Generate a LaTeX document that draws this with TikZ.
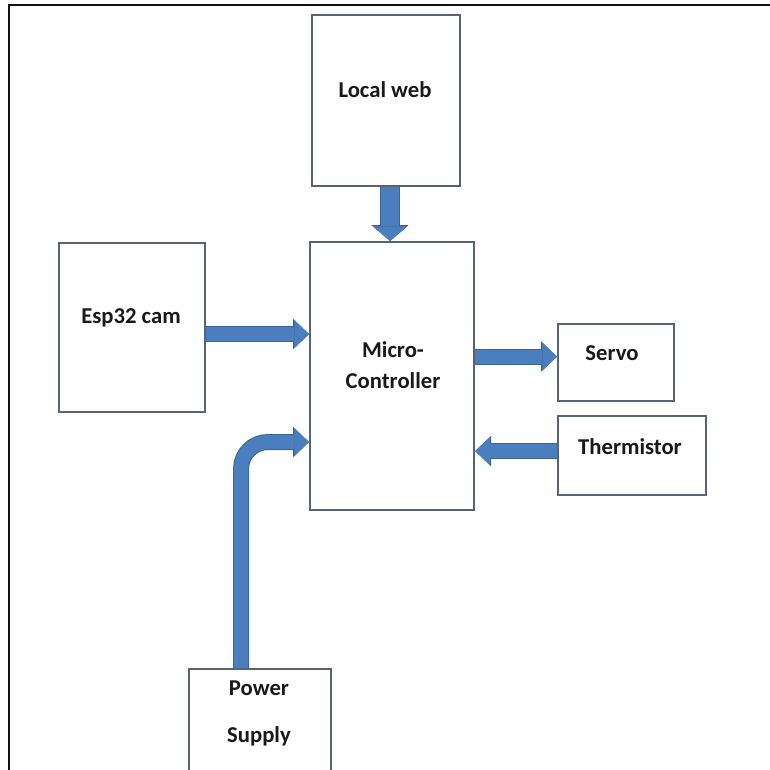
\documentclass[tikz,border=0pt]{standalone}
\usepackage{fontspec}
\setmainfont{Carlito}
\usetikzlibrary{arrows.meta,calc}
\definecolor{arrowblue}{HTML}{4A7EBF}
\definecolor{arrowedge}{HTML}{3A6496}
\definecolor{boxedge}{HTML}{56647A}
\definecolor{frameblack}{HTML}{111111}
\begin{document}
\begin{tikzpicture}[x=0.75pt,y=-0.75pt,
  box/.style={draw=boxedge,line width=1.6pt,fill=white,inner sep=0pt,anchor=north west},
  lbl/.style={font=\bfseries\fontsize{17}{20}\selectfont,text=black!90,inner sep=0pt,align=center},
  barrow/.style={line width=10.5pt,draw=arrowblue,
    -{Triangle[length=11pt,width=21pt,line width=0pt]},
    preaction={draw=arrowedge,line width=12pt,
      -{Triangle[length=12pt,width=23pt,line width=0pt]}}},
  widearrow/.style={line width=14pt,draw=arrowblue,
    -{Triangle[length=11pt,width=26pt,line width=0pt]},
    preaction={draw=arrowedge,line width=15.5pt,
      -{Triangle[length=12pt,width=28pt,line width=0pt]}}}]
\useasboundingbox (0,0) rectangle (770,769);
\clip (0,0) rectangle (770,769);
% outer frame
\draw[frameblack,line width=1.2pt] (9,775) -- (9,5) -- (775,5);
% boxes
\node[box,minimum width=111pt,minimum height=128.25pt] (lw) at (311,14) {};
\node[box,minimum width=109.5pt,minimum height=126.75pt] (esp) at (58,242) {};
\node[box,minimum width=123pt,minimum height=201pt] (mc) at (309,241) {};
\node[box,minimum width=87pt,minimum height=57.75pt] (servo) at (557,323) {};
\node[box,minimum width=111pt,minimum height=59.25pt] (therm) at (557,415) {};
\node[box,minimum width=106.5pt,minimum height=90pt] (ps) at (188,668) {};
% labels
\node[lbl] (lwt) at (385,90) {Local web};
\node[lbl] (espt) at (131,318) {Esp32 cam};
\node[lbl] (mct1) at (393,350) {Micro-};
\node[lbl] (mct2) at (393,381) {Controller};
\node[lbl] (servot) at (612,353) {Servo};
\node[lbl] (thermt) at (630,447) {Thermistor};
\node[lbl] (pst1) at (259,688) {Power};
\node[lbl] (pst2) at (259,736) {Supply};
% arrows
\coordinate (a1) at ($(lw.south)+(4,0)$);
\draw[widearrow] (a1) -- (a1 |- mc.north);
\coordinate (a2) at ($(esp.east)+(0,6.5)$);
\draw[barrow] (a2) -- (a2 -| mc.west);
\coordinate (a3) at ($(servo.west)+(0,-6)$);
\draw[barrow] (a3 -| mc.east) -- (a3);
\coordinate (a4) at ($(therm.west)+(0,-4.5)$);
\draw[barrow] (a4) -- (a4 -| mc.east);
\coordinate (a5) at ($(ps.north)+(-19,0)$);
\coordinate (a6) at ($(mc.west)+(0,66)$);
\draw[barrow,rounded corners=20pt] (a5) |- (a6);
\end{tikzpicture}
\end{document}
